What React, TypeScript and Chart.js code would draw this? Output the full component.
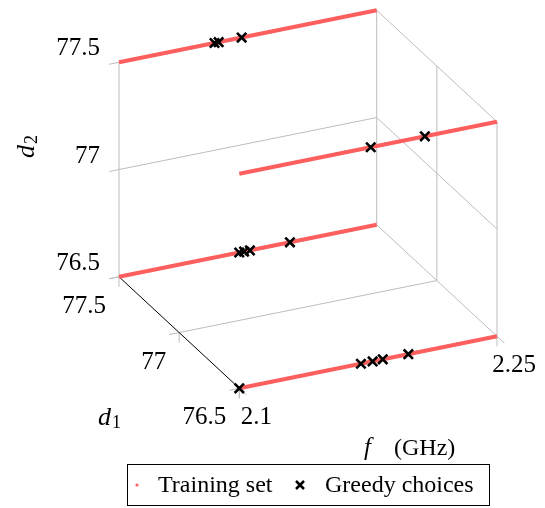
import { useEffect, useRef } from 'react';
import { Chart, registerables } from 'chart.js';

Chart.register(...registerables);

// ---- axis ranges and ticks ----
const F_RANGE = [2.1, 2.25];
const D1_RANGE = [76.5, 77.5];
const D2_RANGE = [76.5, 77.5];

const fTicks = [2.1, 2.25];
const fTickLabels = ['2.1', '2.25'];
const d1Ticks = [76.5, 77, 77.5];
const d1TickLabels = ['76.5', '77', '77.5'];
const d2Ticks = [76.5, 77, 77.5];
const d2TickLabels = ['76.5', '77', '77.5'];

// ---- training set: frequency sweeps at the four (d1, d2) corners ----
const trainF = [2.1, 2.25];
const trainD1 = [77.5, 77.5, 76.5, 76.5];
const trainD2 = [77.5, 76.5, 76.5, 77.5];

// ---- greedy choices ----
const greedyF = [
  2.1556, 2.158, 2.1714,
  2.170, 2.1728, 2.1762, 2.1995,
  2.1, 2.1708, 2.1776, 2.1835, 2.1984,
  2.1765, 2.208,
];
const greedyD1 = [
  77.5, 77.5, 77.5,
  77.5, 77.5, 77.5, 77.5,
  76.5, 76.5, 76.5, 76.5, 76.5,
  76.5, 76.5,
];
const greedyD2 = [
  77.5, 77.5, 77.5,
  76.5, 76.5, 76.5, 76.5,
  76.5, 76.5, 76.5, 76.5, 76.5,
  77.5, 77.5,
];

// ---- view: screen position of the box origin and the screen span of each axis ----
const W = 545;
const H = 508;
const ORIGIN = [239.3, 388.3];
const F_DIR = [257.7, -52.0];
const D1_DIR = [-120.3, -111.5];
const D2_DIR = [0, -214.5];

const RED = '#fd5f5f';
const GRAY = '#bdbdbd';
const SERIF = '"Liberation Serif", "Times New Roman", serif';

const norm = (v: number, r: number[]) => (v - r[0]) / (r[1] - r[0]);

function project(f: number, d1: number, d2: number) {
  const u = norm(f, F_RANGE);
  const v = norm(d1, D1_RANGE);
  const w = norm(d2, D2_RANGE);
  return {
    x: ORIGIN[0] + u * F_DIR[0] + v * D1_DIR[0] + w * D2_DIR[0],
    y: ORIGIN[1] + u * F_DIR[1] + v * D1_DIR[1] + w * D2_DIR[1],
  };
}

const unit = (d: number[], s = 1) => {
  const l = Math.hypot(d[0], d[1]);
  return [(s * d[0]) / l, (s * d[1]) / l];
};

const TICK_LEN = 10;

const boxPlugin = {
  id: 'box3d',
  beforeDatasetsDraw(chart: any) {
    const { ctx, scales } = chart;
    const px = (p: { x: number; y: number }) => ({
      x: scales.x.getPixelForValue(p.x),
      y: scales.y.getPixelForValue(p.y),
    });
    const P = (f: number, d1: number, d2: number) => px(project(f, d1, d2));
    const seg = (a: any, b: any, color = GRAY, lw = 1) => {
      ctx.beginPath();
      ctx.strokeStyle = color;
      ctx.lineWidth = lw;
      ctx.moveTo(a.x, a.y);
      ctx.lineTo(b.x, b.y);
      ctx.stroke();
    };
    const tick = (a: any, dir: number[]) => {
      const [dx, dy] = unit(dir, TICK_LEN);
      seg(a, { x: a.x + dx, y: a.y + dy });
    };
    const [f0, f1] = F_RANGE;
    const [a0, a1] = D1_RANGE;
    const [b0, b1] = D2_RANGE;

    ctx.save();
    // back wall (d1 = max)
    seg(P(f0, a1, b0), P(f0, a1, b1));
    seg(P(f0, a1, b1), P(f1, a1, b1));
    seg(P(f0, a1, b0), P(f1, a1, b0));
    seg(P(f1, a1, b0), P(f1, a1, b1));
    // side wall (f = max)
    seg(P(f1, a1, b1), P(f1, a0, b1));
    seg(P(f1, a0, b1), P(f1, a0, b0));
    seg(P(f1, a1, b0), P(f1, a0, b0));
    // grid lines
    d2Ticks.forEach((t) => {
      if (t === b0 || t === b1) return;
      seg(P(f0, a1, t), P(f1, a1, t));
      seg(P(f1, a1, t), P(f1, a0, t));
    });
    d1Ticks.forEach((t) => {
      if (t === a0 || t === a1) return;
      seg(P(f1, t, b1), P(f1, t, b0));
      seg(P(f0, t, b0), P(f1, t, b0));
    });
    // tick marks
    const negF = [-F_DIR[0], -F_DIR[1]];
    const negD1 = [-D1_DIR[0], -D1_DIR[1]];
    const negD2 = [-D2_DIR[0], -D2_DIR[1]];
    d2Ticks.forEach((t) => tick(P(f0, a1, t), negF));
    d1Ticks.forEach((t) => {
      tick(P(f0, t, b0), negF);
      tick(P(f0, t, b0), negD2);
    });
    fTicks.forEach((t) => {
      tick(P(t, a0, b0), negD2);
      tick(P(t, a0, b0), negD1);
    });
    // d1 axis line
    seg(P(f0, a1, b0), P(f0, a0, b0), '#000', 1);
    ctx.restore();
  },
  afterDraw(chart: any) {
    const { ctx, scales } = chart;
    const P = (f: number, d1: number, d2: number) => {
      const p = project(f, d1, d2);
      return { x: scales.x.getPixelForValue(p.x), y: scales.y.getPixelForValue(p.y) };
    };
    ctx.save();
    ctx.fillStyle = '#000';
    ctx.textBaseline = 'alphabetic';
    ctx.font = `25px ${SERIF}`;

    // d2 tick labels
    ctx.textAlign = 'right';
    d2Ticks.forEach((t, i) => {
      const p = P(F_RANGE[0], D1_RANGE[1], t);
      ctx.fillText(d2TickLabels[i], p.x - 19, p.y - 7);
    });
    // d1 tick labels
    d1Ticks.forEach((t, i) => {
      const p = P(F_RANGE[0], t, D2_RANGE[0]);
      ctx.fillText(d1TickLabels[i], p.x - 13, p.y + 36);
    });
    // f tick labels
    ctx.textAlign = 'center';
    fTicks.forEach((t, i) => {
      const p = P(t, D1_RANGE[0], D2_RANGE[0]);
      ctx.fillText(fTickLabels[i], p.x + 17, p.y + 36);
    });

    // axis titles
    ctx.textAlign = 'left';
    // d1
    ctx.font = `italic 26px ${SERIF}`;
    ctx.fillText('d', 98, 425);
    const dw = ctx.measureText('d').width;
    ctx.font = `18px ${SERIF}`;
    ctx.fillText('1', 98 + dw + 1, 428);
    // d2 (rotated)
    ctx.save();
    ctx.translate(34, 158);
    ctx.rotate(-Math.PI / 2);
    ctx.font = `italic 26px ${SERIF}`;
    ctx.fillText('d', 0, 0);
    ctx.font = `18px ${SERIF}`;
    ctx.fillText('2', dw + 1, 3);
    ctx.restore();
    // f (GHz)
    ctx.font = `italic 25px ${SERIF}`;
    ctx.fillText('f', 364, 455);
    ctx.font = `24px ${SERIF}`;
    ctx.fillText('(GHz)', 394, 455);

    // legend
    const lx = 127.5, ly = 464.5, lw = 362, lh = 41;
    ctx.fillStyle = '#fff';
    ctx.fillRect(lx, ly, lw, lh);
    ctx.strokeStyle = '#000';
    ctx.lineWidth = 1;
    ctx.strokeRect(lx, ly, lw, lh);
    ctx.fillStyle = RED;
    ctx.beginPath();
    ctx.arc(137, 485, 1.6, 0, Math.PI * 2);
    ctx.fill();
    ctx.strokeStyle = '#000';
    ctx.lineWidth = 2.5;
    ctx.beginPath();
    ctx.moveTo(296, 481);
    ctx.lineTo(304, 489);
    ctx.moveTo(304, 481);
    ctx.lineTo(296, 489);
    ctx.stroke();
    ctx.fillStyle = '#000';
    ctx.font = `24px ${SERIF}`;
    ctx.textAlign = 'left';
    ctx.fillText('Training set', 158, 492);
    ctx.fillText('Greedy choices', 325, 492);
    ctx.restore();
  },
};

export default function App() {
  const canvasRef = useRef<HTMLCanvasElement | null>(null);

  useEffect(() => {
    const canvas = canvasRef.current;
    if (!canvas) return;

    const trainingSets = trainD1.map((d1, i) => ({
      label: 'Training set',
      data: trainF.map((f) => project(f, d1, trainD2[i])),
      showLine: true,
      borderColor: RED,
      backgroundColor: RED,
      borderWidth: 4,
      borderCapStyle: 'butt' as const,
      pointRadius: 0,
      order: 2,
    }));

    const greedy = {
      label: 'Greedy choices',
      data: greedyF.map((f, i) => project(f, greedyD1[i], greedyD2[i])),
      showLine: false,
      pointStyle: 'crossRot' as const,
      pointRadius: 6.6,
      pointBorderWidth: 2.6,
      borderColor: '#000',
      backgroundColor: '#000',
      order: 0,
    };

    const chart = new Chart(canvas, {
      type: 'scatter',
      data: { datasets: [greedy, ...trainingSets] as any },
      options: {
        animation: false,
        responsive: false,
        devicePixelRatio: 1,
        layout: { padding: 0, autoPadding: false },
        plugins: { legend: { display: false }, tooltip: { enabled: false } },
        events: [],
        scales: {
          x: { type: 'linear', min: 0, max: W, display: false },
          y: { type: 'linear', min: 0, max: H, reverse: true, display: false },
        },
      },
      plugins: [boxPlugin],
    });
    return () => chart.destroy();
  }, []);

  return (
    <div style={{ position: 'absolute', left: 0, top: 0, width: W, height: H, background: '#fff' }}>
      <canvas ref={canvasRef} width={W} height={H} />
    </div>
  );
}
